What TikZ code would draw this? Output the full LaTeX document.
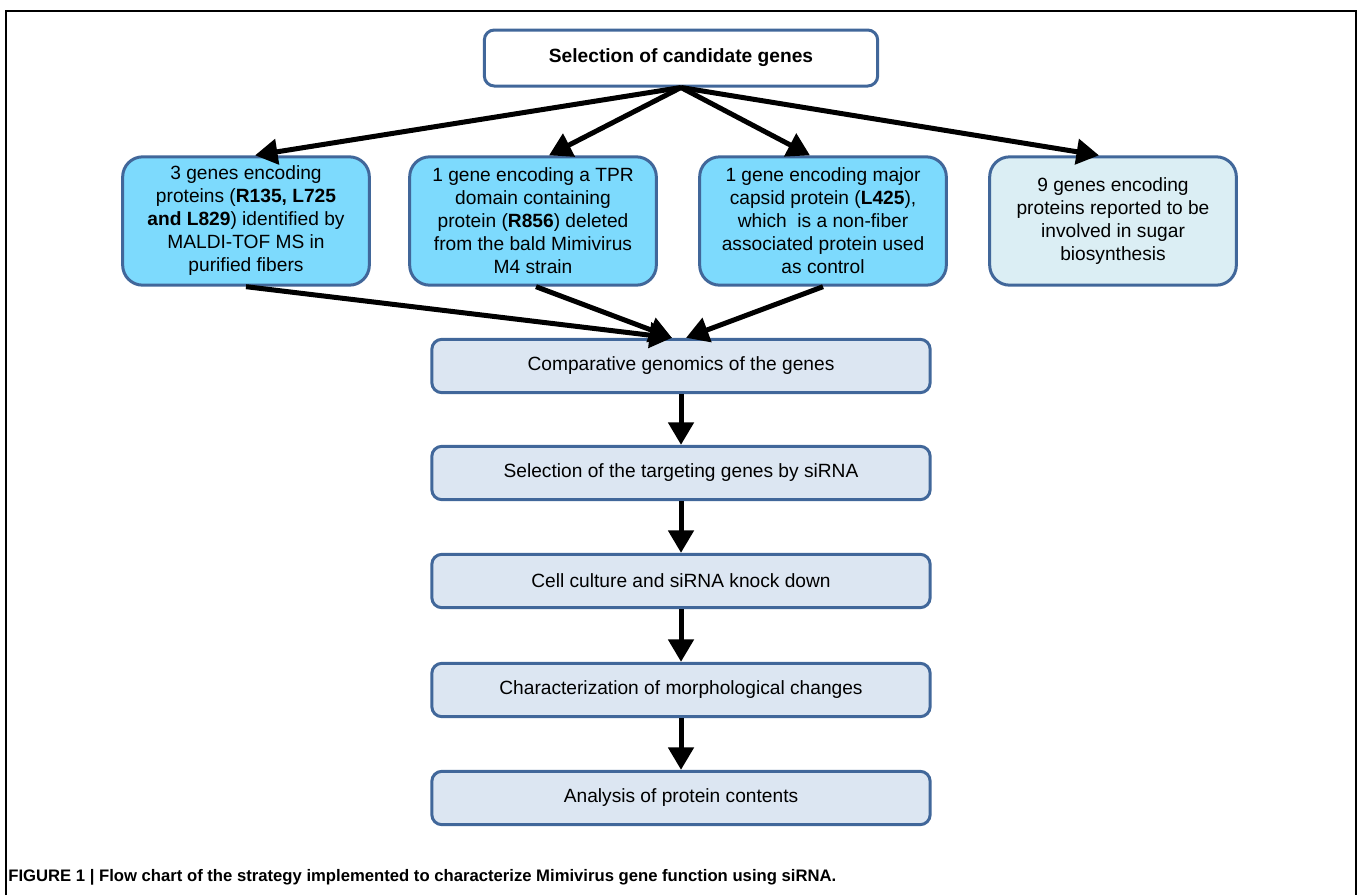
\documentclass[tikz,border=0pt]{standalone}
\usepackage{fontspec}
\setmainfont{Liberation Sans}
\usetikzlibrary{arrows.meta}
\definecolor{boxline}{HTML}{41679A}
\definecolor{cyanfill}{HTML}{7DDAFD}
\definecolor{palefill}{HTML}{DBEEF4}
\definecolor{stepfill}{HTML}{DCE6F2}
\tikzset{genebox/.style={draw=boxline,line width=1.8pt,rounded corners=12pt,fill=cyanfill,minimum width=148pt,minimum height=77pt,align=center,inner sep=0pt,font=\fontsize{11.5}{13.8}\selectfont}}
\tikzset{stepbox/.style={draw=boxline,line width=1.8pt,rounded corners=6pt,fill=stepfill,minimum width=299pt,minimum height=32pt,font=\fontsize{11.5}{13.8}\selectfont}}
\tikzset{myarrow/.style={black,line width=3pt,-{Triangle[width=15pt,length=13.5pt]}}}

\begin{document}
\begin{tikzpicture}[x=0.6pt,y=-0.6pt]
	\useasboundingbox (0,0) rectangle (1358,895);
	\draw[line width=1.2pt] (6,895) -- (6,11) -- (1356,11) -- (1356,895); % frame

	\node[stepbox,fill=white,minimum width=236pt,minimum height=33.6pt,font=\fontsize{11.5}{13.8}\selectfont\bfseries] (cand) at (681,58) {Selection of candidate genes};

	\node[genebox] (fib) at (246,221) {3 genes encoding\\proteins (\textbf{R135, L725}\\\textbf{and L829}) identified by\\MALDI-TOF MS in\\purified fibers};
	\node[genebox] (tpr) at (533,221) {1 gene encoding a TPR\\domain containing\\protein (\textbf{R856}) deleted\\from the bald Mimivirus\\M4 strain};
	\node[genebox] (cap) at (823,221) {1 gene encoding major\\capsid protein (\textbf{L425}),\\which\ \ is a non-fiber\\associated protein used\\as control};
	\node[genebox,fill=palefill] (sug) at (1113,221) {9 genes encoding\\proteins reported to be\\involved in sugar\\biosynthesis};

	\node[stepbox] (comp) at (681,366) {Comparative genomics of the genes};
	\node[stepbox] (targ) at (681,473) {Selection of the targeting genes by siRNA};
	\node[stepbox] (cult) at (681,581) {Cell culture and siRNA knock down};
	\node[stepbox] (morph) at (681,690) {Characterization of morphological changes};
	\node[stepbox] (prot) at (681,798) {Analysis of protein contents};

	\draw[myarrow] (cand.south) -- ([xshift=5.4pt]fib.north);
	\draw[myarrow] (cand.south) -- ([xshift=9.6pt]tpr.north);
	\draw[myarrow] (cand.south) -- ([xshift=-7.8pt]cap.north);
	\draw[myarrow] (cand.south) -- ([xshift=-8.4pt]sug.north);

	\draw[myarrow] (fib.south) -- ([xshift=-5.4pt]comp.north);
	\draw[myarrow] ([xshift=1.8pt]tpr.south) -- ([xshift=-5.4pt]comp.north);
	\draw[myarrow] (cap.south) -- ([xshift=3pt]comp.north);

	\draw[myarrow] (comp) -- (targ);
	\draw[myarrow] (targ) -- (cult);
	\draw[myarrow] (cult) -- (morph);
	\draw[myarrow] (morph) -- (prot);

	\node[anchor=west,inner sep=0pt,font=\fontsize{10}{12}\selectfont\bfseries] (capt) at (8,877) {FIGURE 1 | Flow chart of the strategy implemented to characterize Mimivirus gene function using siRNA.};
\end{tikzpicture}
\end{document}
